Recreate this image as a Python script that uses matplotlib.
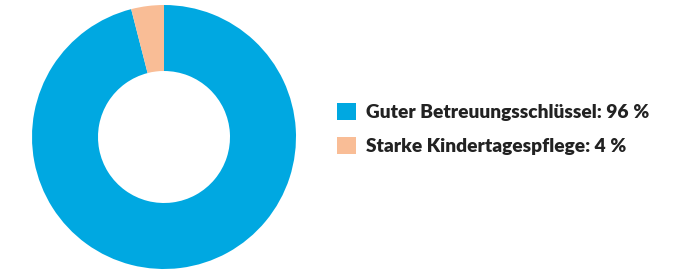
import matplotlib.pyplot as plt

labels = ['Guter Betreuungsschlüssel: 96\u202f%', 'Starke Kindertagespflege: 4\u202f%']
values = [96, 4]
colors = ['#00A8E1', '#F9BD96']

plt.rcParams['font.family'] = ['Lato', 'DejaVu Sans']

fig = plt.figure(figsize=(6.9, 2.7), dpi=100)
ax = fig.add_axes([32/690, 1/270, 264/690, 264/270])
wedges, _ = ax.pie(values, colors=colors, startangle=90, counterclock=False,
                   radius=1, wedgeprops=dict(width=0.5, edgecolor='none'))
ax.set_xlim(-1, 1)
ax.set_ylim(-1, 1)
ax.set_aspect('equal')
ax.axis('off')

fig.legend(wedges, labels, loc='center left', bbox_to_anchor=(329/690, 1 - 129/270),
           frameon=False, prop=dict(weight='heavy', size=13.8),
           labelcolor='#222222', handlelength=1.0, handleheight=1.0,
           handletextpad=0.55, labelspacing=0.85, borderaxespad=0)

fig.savefig('out.png', dpi=100)
